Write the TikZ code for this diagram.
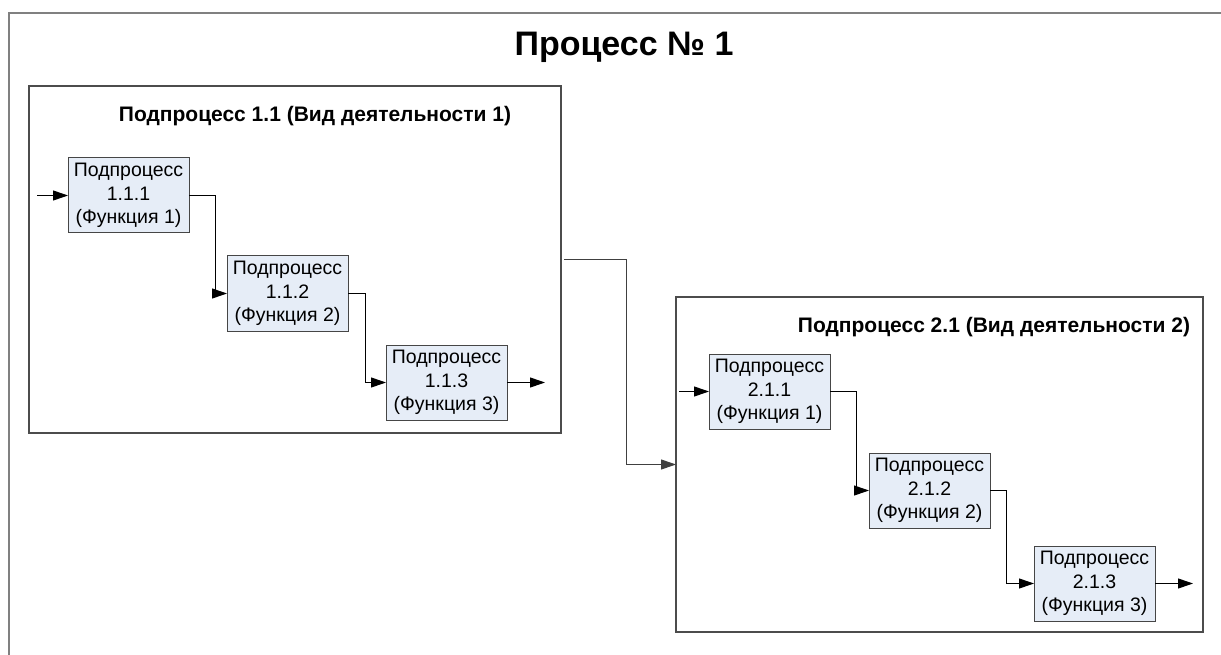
\documentclass[tikz,border=0pt]{standalone}
\usepackage{fontspec}
\setmainfont{Liberation Sans}
\usetikzlibrary{arrows.meta}

\definecolor{boxfill}{RGB}{230,237,247}
\definecolor{boxline}{RGB}{70,70,70}

\begin{document}
\begin{tikzpicture}[x=1pt,y=-1pt,>={Triangle[length=15pt,width=10pt]},
	every node/.style={inner sep=0pt,outer sep=0pt},
	frame/.style={draw=gray,line width=2pt},
	group/.style={draw=black!70,line width=1.3pt,fill=white},
	func/.style={draw=boxline,line width=1pt,fill=boxfill,minimum width=121,minimum height=75,
		align=center,font=\fontsize{19.5}{23.5}\selectfont},
	ptitle/.style={font=\fontsize{34}{38}\selectfont\bfseries},
	gtitle/.style={font=\fontsize{21}{25}\selectfont\bfseries},
	arr/.style={->,line width=1pt,draw=black}]
	\def\fw{121}
	\def\fh{75}

	\useasboundingbox (0,0) rectangle (1221,655);
	\fill[white] (0,0) rectangle (1221,655);
	\draw[frame] (1230,13) -- (9,13) -- (9,665);
	\node[ptitle] (title) at (624,47) {Процесс № 1};

	%группы
	\node[group,minimum width=532,minimum height=347] (grpA) at (295,259.5) {};
	\node[group,minimum width=527,minimum height=335] (grpB) at (939.5,464.5) {};
	\node[gtitle] (tA) at (315,116) {Подпроцесс 1.1 (Вид деятельности 1)};
	\node[gtitle] (tB) at (994,327) {Подпроцесс 2.1 (Вид деятельности 2)};

	%функции
	\node[func] (p111) at (128.5,195.5) {Подпроцесс\\1.1.1\\(Функция 1)};
	\node[func] (p112) at (287.5,293.5) {Подпроцесс\\1.1.2\\(Функция 2)};
	\node[func] (p113) at (446.5,382.5) {Подпроцесс\\1.1.3\\(Функция 3)};
	\node[func] (p211) at (769.5,391.5) {Подпроцесс\\2.1.1\\(Функция 1)};
	\node[func] (p212) at (929.5,490.5) {Подпроцесс\\2.1.2\\(Функция 2)};
	\node[func] (p213) at (1094.5,583.5) {Подпроцесс\\2.1.3\\(Функция 3)};

	\coordinate (in1) at (37,195.5);
	\coordinate (out1) at (545,382.5);
	\coordinate (in2) at (679,391.5);
	\coordinate (out2) at (1193,583.5);

	%связи
	\draw[arr] (in1) -- (p111.west);
	\draw[arr] (p111.east) -- ++(26,0) |- (p112.west);
	\draw[arr] (p112.east) -- ++(17,0) |- (p113.west);
	\draw[arr] (p113.east) -- (out1);
	\draw[arr,draw=black!75,shorten <=3pt] (grpA.east) -- ++(65,0) |- (grpB.west);
	\draw[arr] (in2) -- (p211.west);
	\draw[arr] (p211.east) -- ++(26,0) |- (p212.west);
	\draw[arr] (p212.east) -- ++(16,0) |- (p213.west);
	\draw[arr] (p213.east) -- (out2);
\end{tikzpicture}
\end{document}
